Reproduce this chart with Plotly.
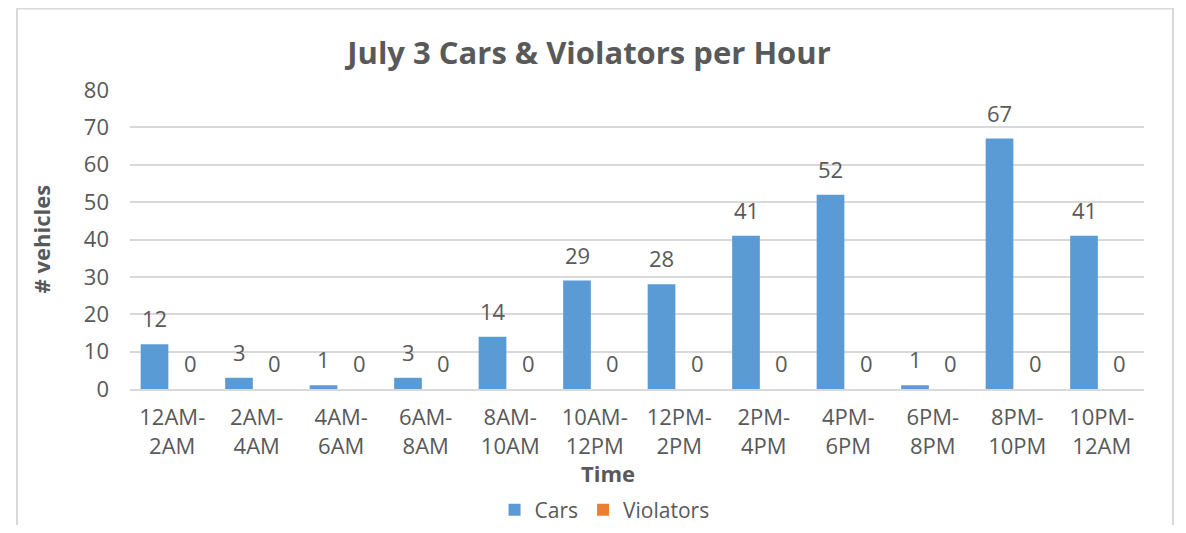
import plotly.graph_objects as go

categories = ["12AM-<br>2AM", "2AM-<br>4AM", "4AM-<br>6AM", "6AM-<br>8AM", "8AM-<br>10AM",
              "10AM-<br>12PM", "12PM-<br>2PM", "2PM-<br>4PM", "4PM-<br>6PM", "6PM-<br>8PM",
              "8PM-<br>10PM", "10PM-<br>12AM"]
cars = [12, 3, 1, 3, 14, 29, 28, 41, 52, 1, 67, 41]
violators = [0, 0, 0, 0, 0, 0, 0, 0, 0, 0, 0, 0]
y_ticks = [0, 10, 20, 30, 40, 50, 60, 70, 80]

FONT = "Open Sans"
TXT = "#595959"
GRID = "#d9d9d9"

fig = go.Figure()
fig.add_trace(go.Bar(name="Cars", x=categories, y=cars, marker=dict(color="#5B9BD5", line_width=0)))
fig.add_trace(go.Bar(name="Violators", x=categories, y=violators, marker=dict(color="#ED7D31", line_width=0)))

annotations = []
for series, shift in ((cars, -17.75), (violators, 17.75)):
    for c, v in zip(categories, series):
        annotations.append(dict(x=c, y=v, xref="x", yref="y", text=str(v), showarrow=False,
                                xshift=shift, yshift=26, yanchor="middle",
                                font=dict(family=FONT, size=22, color=TXT)))

annotations.append(dict(text="<b># vehicles</b>", xref="paper", yref="paper", x=-0.0873, y=0.5017,
                        textangle=-90, showarrow=False, xanchor="center", yanchor="middle",
                        font=dict(family=FONT, size=22, color=TXT)))
annotations.append(dict(text="<b>Time</b>", xref="paper", yref="paper", x=0.4714, y=-0.281,
                        showarrow=False, xanchor="center", yanchor="middle",
                        font=dict(family=FONT, size=22, color=TXT)))

# chart frame (left, top, right edges; bottom is cut off by the window)
bx0, bx1, by0, by1 = -0.1114, 1.0286, -0.4548, 1.2726
frame_path = f"M {bx0},{by0} L {bx0},{by1} L {bx1},{by1} L {bx1},{by0}"

fig.update_layout(
    width=1170, height=517,
    margin=dict(l=122, r=34, t=82, b=136),
    paper_bgcolor="white", plot_bgcolor="white",
    barmode="group", bargap=0.16, bargroupgap=0.22,
    title=dict(text="<b>July 3 Cars &amp; Violators per Hour</b>", x=0.4966, y=0.913,
               xanchor="center", yanchor="middle",
               font=dict(family=FONT, size=31, color=TXT)),
    font=dict(family=FONT, size=22, color=TXT),
    xaxis=dict(showgrid=False, showline=True, linecolor=GRID, linewidth=1.5, automargin=False,
               ticks="", ticklabelstandoff=8, tickfont=dict(family=FONT, size=22, color=TXT)),
    yaxis=dict(range=[0, 80], tickvals=y_ticks, showgrid=True, gridcolor=GRID, gridwidth=1.5,
               zeroline=False, showline=False, ticks="", ticklabelstandoff=20, automargin=False,
               tickfont=dict(family=FONT, size=22, color=TXT)),
    legend=dict(orientation="h", xref="paper", x=0.468, xanchor="center",
                yref="container", y=0.029, yanchor="middle",
                font=dict(family=FONT, size=21, color=TXT), itemwidth=30),
    annotations=annotations,
    shapes=[dict(type="path", xref="paper", yref="paper", path=frame_path,
                 line=dict(color=GRID, width=2), layer="below")],
)

fig.write_html("out.html")
